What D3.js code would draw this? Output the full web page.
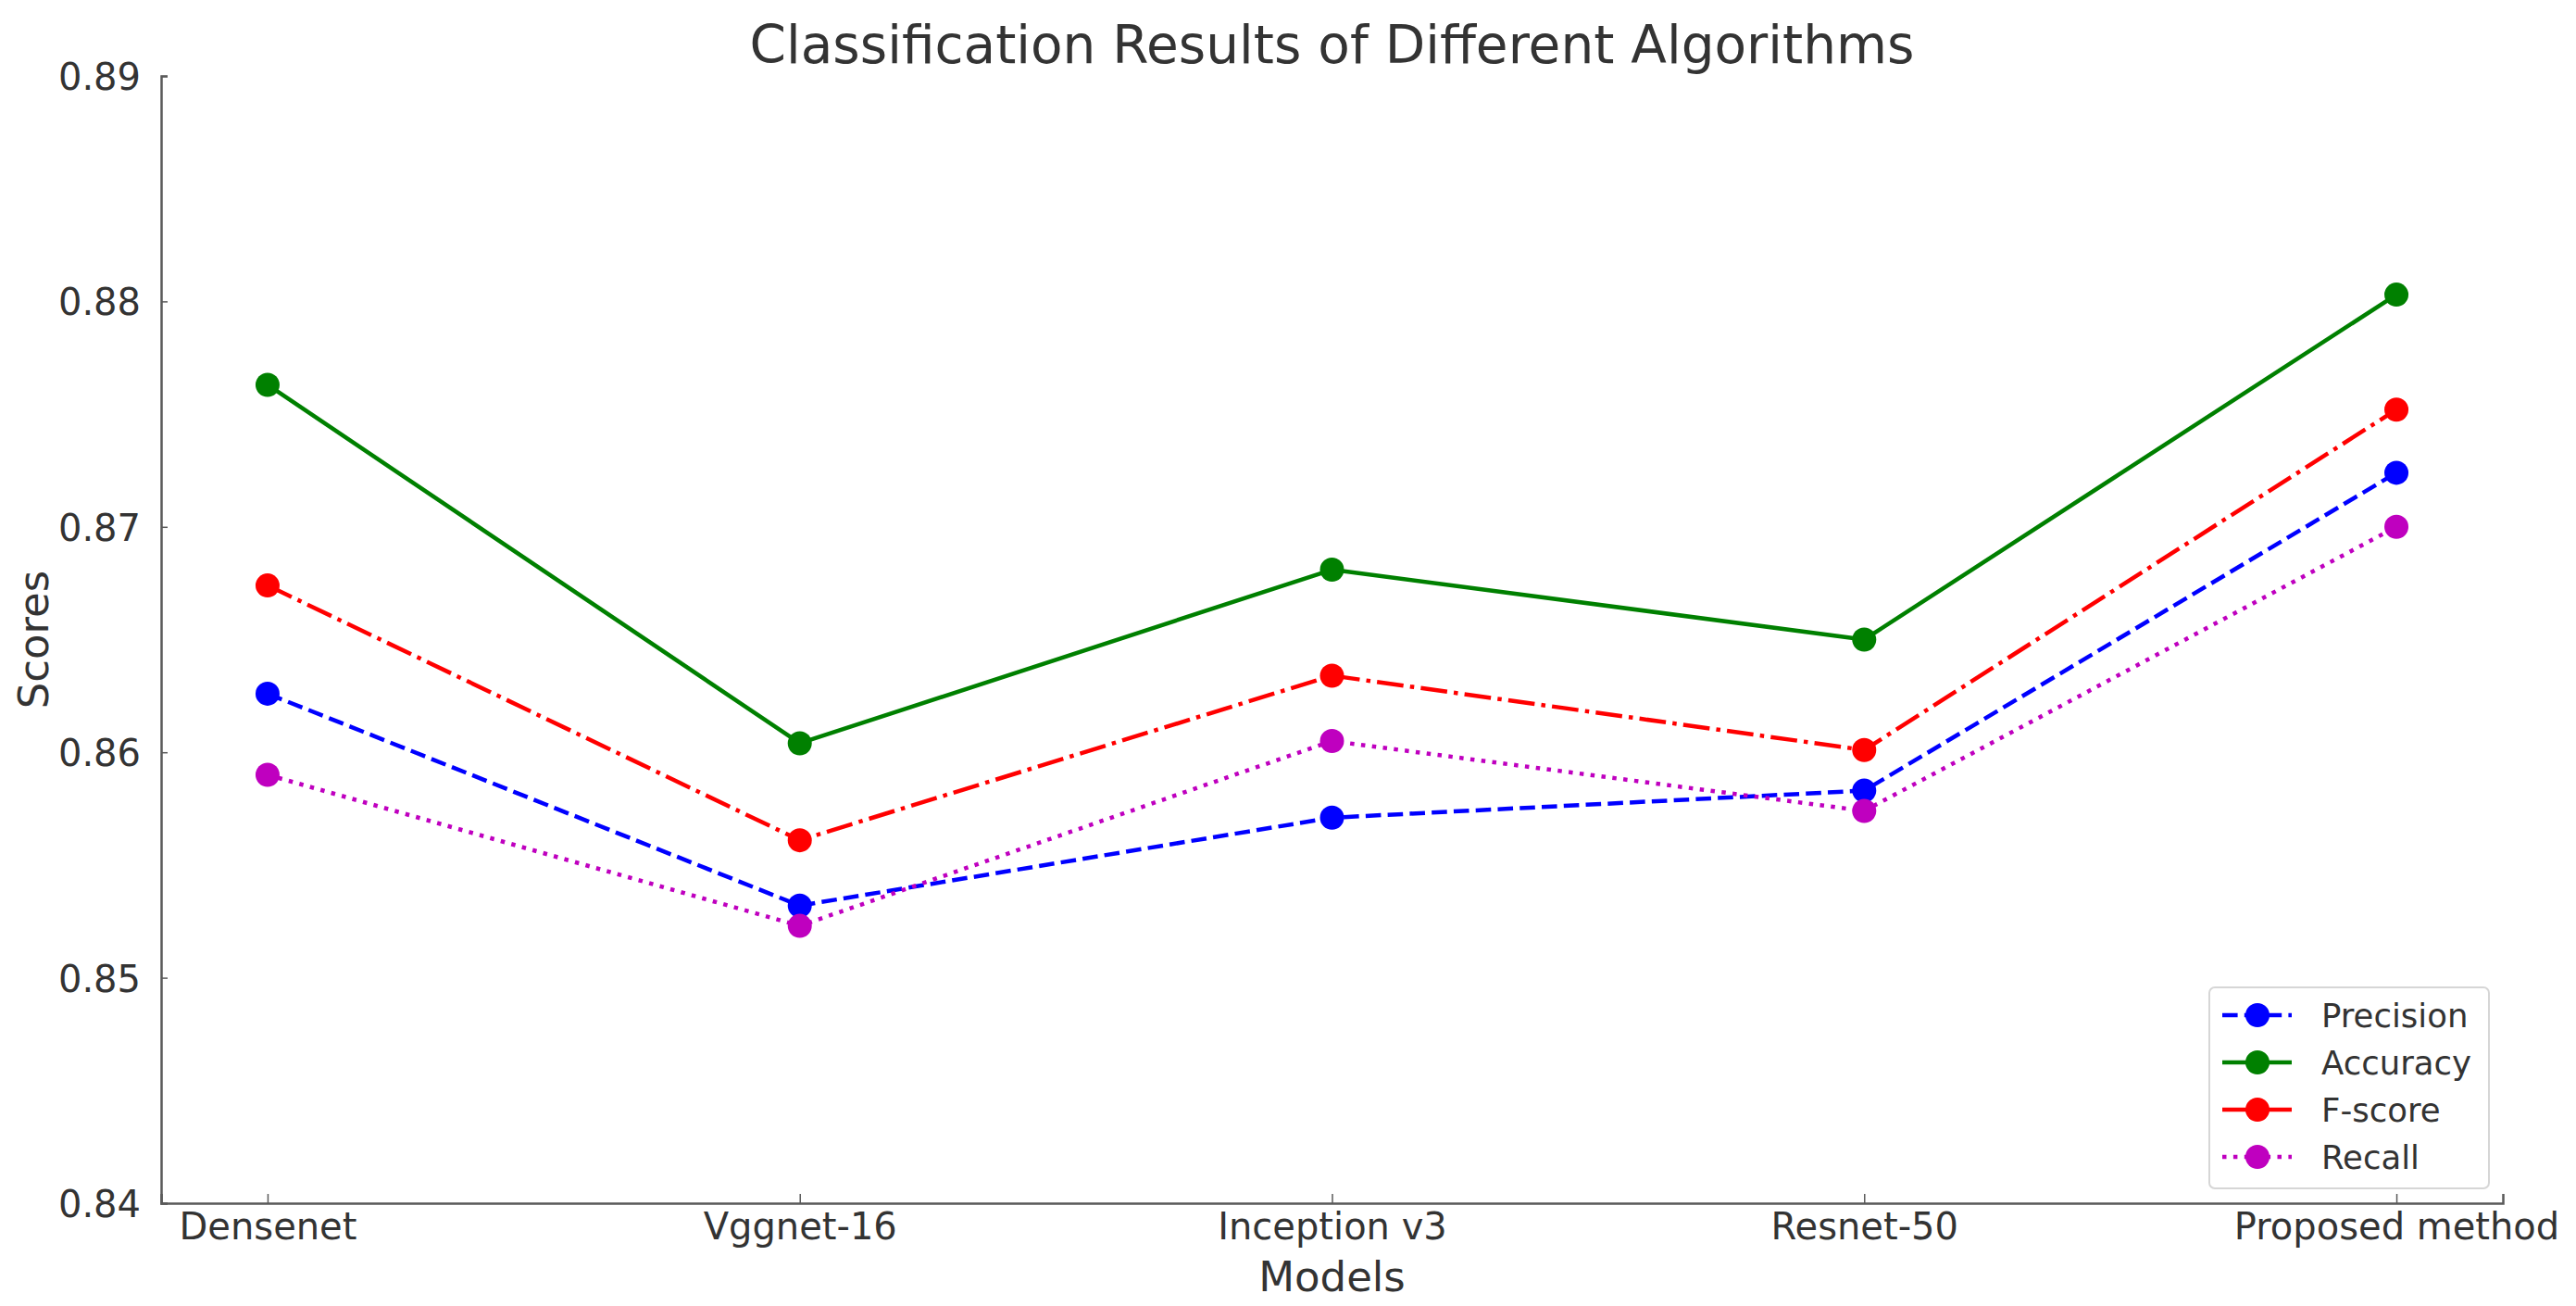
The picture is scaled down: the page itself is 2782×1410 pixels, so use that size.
<!DOCTYPE html>
<html>
<head>
<meta charset="utf-8">
<script src="https://cdn.jsdelivr.net/npm/d3@7"></script>
<style>
  body { margin: 0; background: #fff; }
  text { font-family: "DejaVu Sans", sans-serif; fill: #333; }
</style>
</head>
<body>
<script>
// chart data
var models = ["Densenet", "Vggnet-16", "Inception v3", "Resnet-50", "Proposed method"];
var precision = [0.8626, 0.8532, 0.8571, 0.8583, 0.8724];
var accuracy  = [0.8763, 0.8604, 0.8681, 0.8650, 0.8803];
var fscore    = [0.8674, 0.8561, 0.8634, 0.8601, 0.8752];
var recall    = [0.8590, 0.8523, 0.8605, 0.8574, 0.8700];
var yTicks = [0.84, 0.85, 0.86, 0.87, 0.88, 0.89];

var series = [
  { name: "Precision", values: precision, color: "#0000ff", dash: "16.6,7.2" },
  { name: "Accuracy",  values: accuracy,  color: "#008000", dash: null },
  { name: "F-score",   values: fscore,    color: "#ff0000", dash: "28.8,7.2,4.5,7.2" },
  { name: "Recall",    values: recall,    color: "#bf00bf", dash: "4.5,7.4" }
];

var width = 2782, height = 1410;
// plot box (note: "top" is taken by window.top, so use other names)
var plotL = 174, plotR = 2703, plotT = 82, plotB = 1299;
var lw = 4.5, mr = 13;

var svg = d3.select("body").append("svg")
    .attr("width", width)
    .attr("height", height);

var x = d3.scalePoint()
    .domain(models)
    .range([plotL, plotR])
    .padding(0.2);

var y = d3.scaleLinear()
    .domain([0.84, 0.89])
    .range([plotB, plotT]);

// axes (left + bottom spines only)
var xAxis = svg.append("g")
    .attr("transform", "translate(0," + plotB + ")")
    .call(d3.axisBottom(x).tickSize(-10).tickPadding(11));

var yAxis = svg.append("g")
    .attr("transform", "translate(" + plotL + ",0)")
    .call(d3.axisLeft(y).tickValues(yTicks).tickFormat(d3.format(".2f")).tickSize(-7).tickPadding(22));

[xAxis, yAxis].forEach(function(g) {
  g.select(".domain").attr("stroke", "#5a5a5a").attr("stroke-width", 2.5);
  g.selectAll(".tick line").attr("stroke", "#5a5a5a").attr("stroke-width", 1.5);
  g.selectAll(".tick text").style("font-size", "40px").attr("fill", "#333");
});
xAxis.selectAll(".tick text").attr("dy", "0.71em");
yAxis.selectAll(".tick text").attr("dy", "0.36em");

// series lines + markers
var line = d3.line()
    .x(function(d, i) { return x(models[i]); })
    .y(function(d) { return y(d); });

series.forEach(function(s) {
  svg.append("path")
      .datum(s.values)
      .attr("d", line)
      .attr("fill", "none")
      .attr("stroke", s.color)
      .attr("stroke-width", lw)
      .attr("stroke-dasharray", s.dash)
      .attr("stroke-linejoin", "round");

  svg.append("g").selectAll("circle")
      .data(s.values)
      .enter().append("circle")
      .attr("cx", function(d, i) { return x(models[i]); })
      .attr("cy", function(d) { return y(d); })
      .attr("r", mr)
      .attr("fill", s.color);
});

// title and axis labels
svg.append("text")
    .attr("x", (plotL + plotR) / 2)
    .attr("y", 68)
    .attr("text-anchor", "middle")
    .style("font-size", "56.5px")
    .text("Classification Results of Different Algorithms");

svg.append("text")
    .attr("x", (plotL + plotR) / 2)
    .attr("y", 1394)
    .attr("text-anchor", "middle")
    .style("font-size", "45px")
    .text("Models");

svg.append("text")
    .attr("transform", "translate(52," + ((plotT + plotB) / 2) + ") rotate(-90)")
    .attr("text-anchor", "middle")
    .style("font-size", "45px")
    .text("Scores");

// legend
var lg = svg.append("g");
lg.append("rect")
    .attr("x", 2386).attr("y", 1066)
    .attr("width", 302).attr("height", 217)
    .attr("rx", 6)
    .attr("fill", "#fff").attr("fill-opacity", 0.8)
    .attr("stroke", "#d6d6d6").attr("stroke-width", 2);

var rows = lg.selectAll(".row")
    .data(series)
    .enter().append("g")
    .attr("transform", function(d, i) { return "translate(0," + (1096 + i * 51) + ")"; });

rows.append("line")
    .attr("x1", 2400).attr("x2", 2475)
    .attr("stroke", function(d) { return d.color; })
    .attr("stroke-width", lw)
    .attr("stroke-dasharray", function(d) { return d.dash; });

rows.append("circle")
    .attr("cx", 2438)
    .attr("r", mr)
    .attr("fill", function(d) { return d.color; });

rows.append("text")
    .attr("x", 2507)
    .attr("dy", "0.36em")
    .style("font-size", "35.5px")
    .text(function(d) { return d.name; });
</script>
</body>
</html>
